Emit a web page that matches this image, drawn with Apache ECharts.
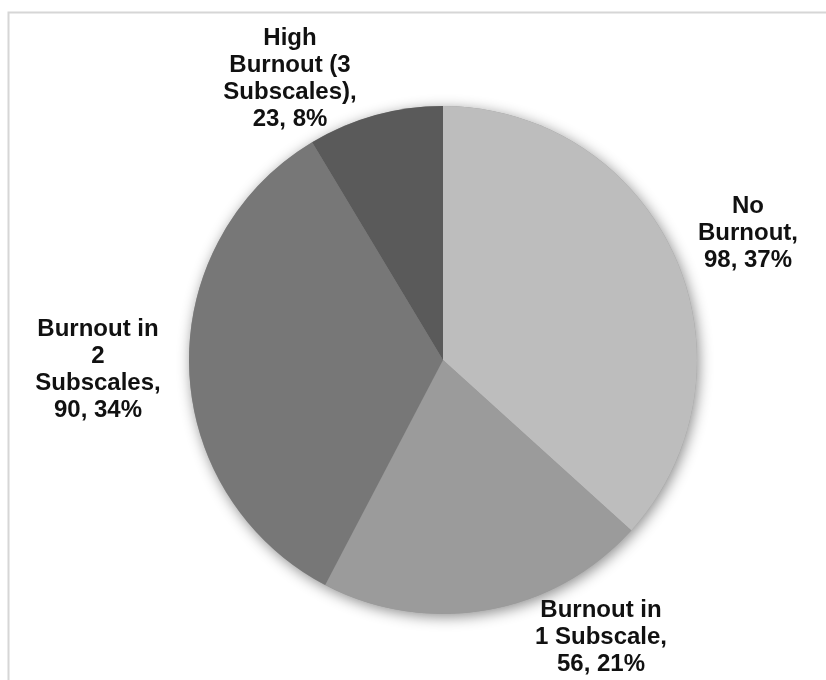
<!DOCTYPE html>
<html>
<head>
<meta charset="utf-8">
<script src="https://cdn.jsdelivr.net/npm/echarts@6/dist/echarts.min.js"></script>
<style>
html,body{margin:0;padding:0;background:#fff;}
#chart{width:826px;height:680px;}
</style>
</head>
<body>
<div id="chart"></div>
<script>
const categories = ['No Burnout', 'Burnout in 1 Subscale', 'Burnout in 2 Subscales', 'High Burnout (3 Subscales)'];
const labelTexts = ['No\nBurnout,', 'Burnout in\n1 Subscale,', 'Burnout in\n2\nSubscales,', 'High\nBurnout (3\nSubscales),'];
const counts = [98, 56, 90, 23];
const percents = [37, 21, 34, 8];
const colors = ['#bdbdbd', '#9b9b9b', '#777777', '#5a5a5a'];
const labelPos = [[748, 233], [601, 637], [98, 370], [290, 79]];

const total = counts.reduce((a, b) => a + b, 0);
const chart = echarts.init(document.getElementById('chart'));
const center = [443, 360];
const radius = 254;

chart.setOption({
  backgroundColor: '#ffffff',
  animation: false,
  graphic: [{
    type: 'polyline',
    shape: { points: [[8.5, 680], [8.5, 12.5], [826, 12.5]] },
    style: { stroke: '#d6d6d6', lineWidth: 2, fill: null },
    z: -10
  }],
  series: [
    {
      type: 'pie',
      silent: true,
      center: center,
      radius: radius,
      z: 1,
      label: { show: false },
      labelLine: { show: false },
      itemStyle: {
        color: '#999',
        shadowBlur: 14,
        shadowColor: 'rgba(0,0,0,0.45)',
        shadowOffsetX: 2,
        shadowOffsetY: 3
      },
      data: [{ name: 'total', value: total }]
    },
    {
      type: 'pie',
      center: center,
      radius: radius,
      startAngle: 90,
      clockwise: true,
      z: 2,
      data: categories.map((c, i) => ({
        name: c,
        value: counts[i],
        itemStyle: { color: colors[i] },
        label: {
          formatter: labelTexts[i] + '\n' + counts[i] + ', ' + percents[i] + '%'
        }
      })),
      label: {
        show: true,
        position: 'outside',
        fontFamily: '"Liberation Sans", Arial, sans-serif',
        fontWeight: 'bold',
        fontSize: 24,
        lineHeight: 27,
        color: '#111',
        align: 'center',
        overflow: 'none',
        width: 300
      },
      labelLine: { show: false },
      labelLayout: function (params) {
        const p = labelPos[params.dataIndex];
        return { x: p[0], y: p[1], align: 'center', verticalAlign: 'middle' };
      },
      itemStyle: { borderWidth: 0 }
    }
  ]
});
</script>
</body>
</html>
